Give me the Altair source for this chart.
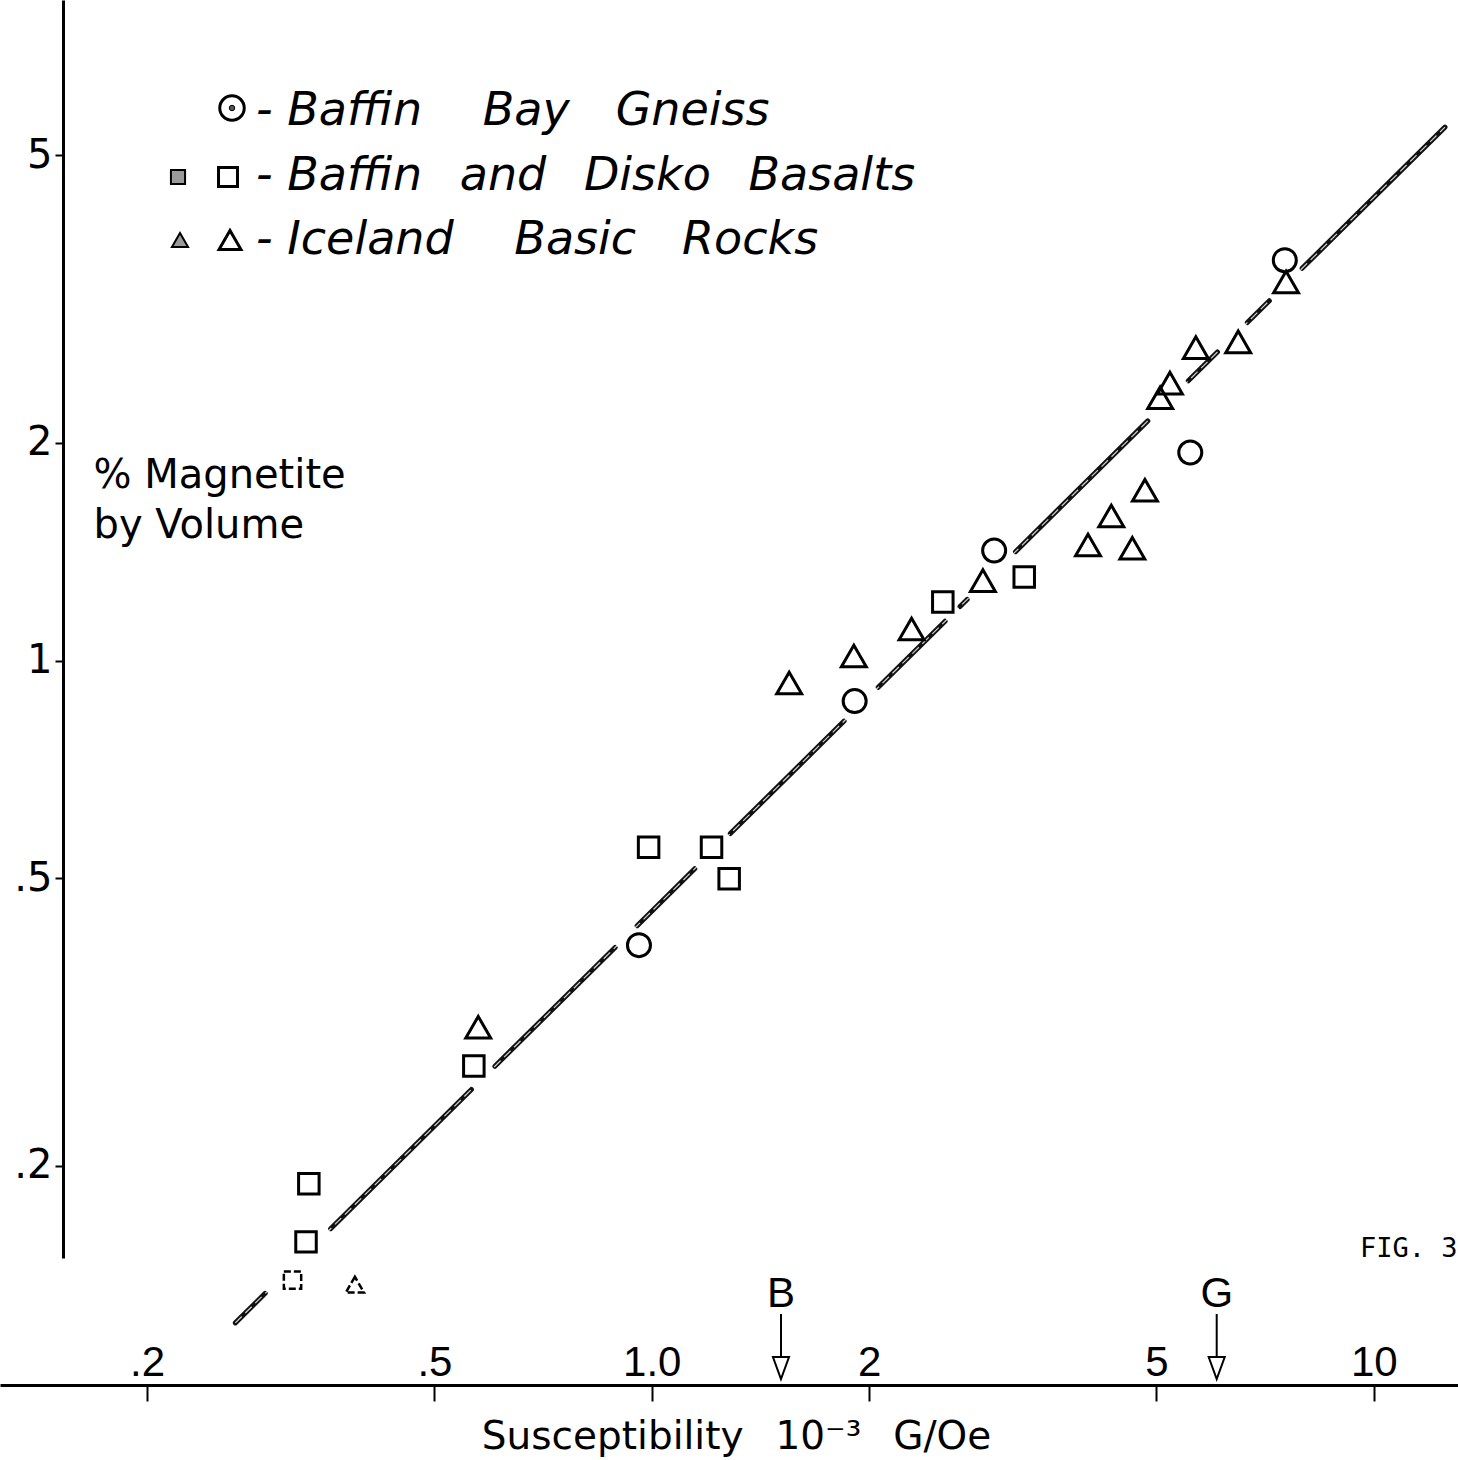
import altair as alt
import pandas as pd

# ---------------- data ----------------
gneiss_chi = [0.96, 1.91, 2.98, 5.57, 7.53]
gneiss_mag = [0.404, 0.879, 1.42, 1.94, 3.58]

basalt_chi = [0.335, 0.332, 0.567, 0.99, 1.21, 1.28, 2.53, 3.28]
basalt_mag = [0.189, 0.157, 0.275, 0.552, 0.552, 0.499, 1.205, 1.305]
basalt_small_chi = [0.318]
basalt_small_mag = [0.139]

iceland_chi = [0.575, 1.55, 1.905, 2.29, 2.875, 4.02, 4.33, 4.63, 4.82, 5.06, 5.22, 5.67, 6.49, 7.56]
iceland_mag = [0.311, 0.931, 1.015, 1.106, 1.29, 1.445, 1.585, 1.43, 1.72, 2.31, 2.42, 2.71, 2.76, 3.34]
iceland_small_chi = [0.388]
iceland_small_mag = [0.137]

fit_chi = [0.265, 12.55]
fit_mag = [0.1213, 5.47]

marker_labels = ["B", "G"]
marker_chi = [1.51, 6.06]

x_ticks = [0.2, 0.5, 1, 2, 5, 10]
x_tick_labels = [".2", ".5", "1.0", "2", "5", "10"]
y_ticks = [0.2, 0.5, 1, 2, 5]
y_tick_labels = [".2", ".5", "1", "2", "5"]

legend_labels = [
    "- Baffin\u2003 Bay\u2003Gneiss",
    "- Baffin\u2002 and\u2002 Disko\u2002 Basalts",
    "- Iceland\u2003 Basic\u2003Rocks",
]
x_title = "Susceptibility\u2002 10\u207b\u00b3\u2002 G/Oe"
y_title = ["% Magnetite", "by Volume"]
fig_label = "FIG. 3"

# ---------------- chart ----------------
W, H = 1458, 1258
xs = alt.Scale(type="log", domain=[0.12511, 13.082], nice=False)
ys = alt.Scale(type="log", domain=[0.14914, 8.200], nice=False)


def label_expr(vals, labels):
    expr = "''"
    for v, l in reversed(list(zip(vals, labels))):
        expr = f"datum.value == {v} ? '{l}' : ({expr})"
    return expr


def pts(chi, mag):
    return pd.DataFrame({"chi": chi, "mag": mag})


x_axis = alt.Axis(
    values=x_ticks, labelExpr=label_expr(x_ticks, x_tick_labels), orient="bottom",
    offset=127, grid=False, domainColor="black", domainWidth=3, tickColor="black",
    tickWidth=2, tickSize=16, labelPadding=-26, labelBaseline="alphabetic",
    labelFont="Liberation Sans", labelFontSize=42, labelColor="black",
    labelFlush=False, labelOverlap=False,
    title=x_title, titleFont="DejaVu Sans", titleFontSize=39, titleFontWeight="normal",
    titleColor="black", titleX=736, titleY=63, titleAlign="center", titleBaseline="alphabetic",
)
y_axis = alt.Axis(
    values=y_ticks, labelExpr=label_expr(y_ticks, y_tick_labels), orient="left",
    offset=-63, grid=False, domainColor="black", domainWidth=3, tickColor="black",
    tickWidth=2, tickSize=8, labelPadding=3, labelFont="DejaVu Sans", labelFontSize=40,
    labelColor="black", labelFlush=False, labelOverlap=False,
    title=y_title, titleAngle=0, titleX=30, titleY=487, titleAlign="left",
    titleBaseline="alphabetic", titleFont="DejaVu Sans", titleFontSize=40,
    titleFontWeight="normal", titleColor="black", titleLineHeight=50,
)


def X():
    return alt.X("chi:Q", scale=xs, axis=x_axis)


def Y():
    return alt.Y("mag:Q", scale=ys, axis=y_axis)


dash = [42, 92, 198, 33, 169, 31, 81, 50, 160, 48, 94, 21, 10, 68, 186, 57, 41, 42, 31, 46, 220, 10]

fit = alt.Chart(pts(fit_chi, fit_mag)).mark_line(
    color="#111111", strokeWidth=5, strokeCap="round", strokeDash=dash
).encode(x=X(), y=Y())
fit_inner = alt.Chart(pts(fit_chi, fit_mag)).mark_line(
    color="white", strokeWidth=1.2, strokeDash=[9, 5], opacity=0.8
).encode(x=X(), y=Y())


def sym(chi, mag, shape, size, sw=3, dashp=None):
    kw = dict(shape=shape, size=size, strokeWidth=sw, color="black", filled=False, opacity=1)
    if dashp:
        kw["strokeDash"] = dashp
    return alt.Chart(pts(chi, mag)).mark_point(**kw).encode(x=X(), y=Y())


gneiss = sym(gneiss_chi, gneiss_mag, "circle", 530)
basalt = sym(basalt_chi, basalt_mag, "square", 420)
basalt_s = sym(basalt_small_chi, basalt_small_mag, "square", 300, 2.5, [7, 3])
iceland = sym(iceland_chi, iceland_mag, "triangle-up", 620)
iceland_s = sym(iceland_small_chi, iceland_small_mag, "triangle-up", 330, 2.5, [7, 3])

mk = pd.DataFrame({"chi": marker_chi, "lab": marker_labels})
mk_text = alt.Chart(mk).mark_text(
    font="Liberation Sans", fontSize=42, baseline="alphabetic", align="center", color="black"
).encode(x=X(), y=alt.value(1307), text="lab:N")
mk_shaft = alt.Chart(mk).mark_rule(color="black", strokeWidth=2).encode(
    x=X(), y=alt.value(1314), y2=alt.value(1360)
)
mk_head = alt.Chart(mk).mark_point(
    shape="M-0.73,-1L0.73,-1L0,1Z", size=484, filled=True, fill="white",
    stroke="black", strokeWidth=2, opacity=1
).encode(x=X(), y=alt.value(1368))

one = pd.DataFrame({"k": [0]})


def lg_point(x, y, shape, size, fill=None, sw=3):
    kw = dict(shape=shape, size=size, strokeWidth=sw, stroke="black", opacity=1)
    if fill:
        kw.update(filled=True, fill=fill)
    else:
        kw.update(filled=False)
    return alt.Chart(one).mark_point(**kw).encode(x=alt.value(x), y=alt.value(y))


legend_layers = [
    lg_point(232, 108, "circle", 600),
    lg_point(232, 108, "circle", 30, fill="#555555", sw=1),
    lg_point(178, 177, "square", 200, fill="#9a9a9a", sw=2),
    lg_point(228, 177, "square", 360),
    lg_point(180, 240, "triangle-up", 260, fill="#9a9a9a", sw=2),
    lg_point(230, 240, "triangle-up", 480),
]
for lab, yb in zip(legend_labels, [125, 190, 254]):
    legend_layers.append(
        alt.Chart(pd.DataFrame({"t": [lab]})).mark_text(
            font="DejaVu Sans", fontStyle="italic", fontSize=46, align="left",
            baseline="alphabetic", color="black"
        ).encode(x=alt.value(256), y=alt.value(yb), text="t:N")
    )

fig = alt.Chart(pd.DataFrame({"t": [fig_label]})).mark_text(
    font="DejaVu Sans Mono", fontSize=27, align="left", baseline="alphabetic", color="black"
).encode(x=alt.value(1360), y=alt.value(1257), text="t:N")

chart = alt.layer(
    fit, fit_inner, gneiss, basalt, basalt_s, iceland, iceland_s,
    mk_text, mk_shaft, mk_head, fig, *legend_layers
).properties(
    width=W, height=H,
    autosize=alt.AutoSizeParams(type="none"),
    padding={"left": 0, "top": 0, "right": 0, "bottom": 202},
    background="white",
).configure_view(stroke=None)

chart.save("out.html", embed_options={"renderer": "svg", "actions": False})
